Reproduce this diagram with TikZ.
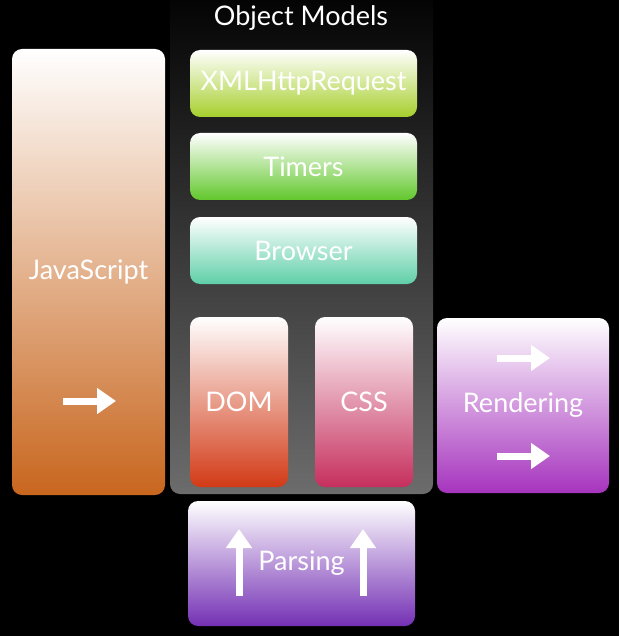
\documentclass[tikz,border=0pt]{standalone}
\usepackage{fontspec}
\setmainfont{Lato}
\usetikzlibrary{arrows.meta,shapes,positioning}

\definecolor{jsorange}{HTML}{C8661E}
\definecolor{xhrgreen}{HTML}{A6CF2C}
\definecolor{timergreen}{HTML}{62C72C}
\definecolor{browserteal}{HTML}{5FCFA8}
\definecolor{domred}{HTML}{D23A16}
\definecolor{csscrimson}{HTML}{C62F5E}
\definecolor{renderpurple}{HTML}{A634BE}
\definecolor{parseviolet}{HTML}{7430B4}
\definecolor{panelgray}{HTML}{6C6C6C}

\tikzset{
  layer/.style={rounded corners=10pt, text=white, inner sep=0pt,
    font=\fontsize{27}{30}\selectfont, top color=white},
  panel/.style={rounded corners=10pt, top color=black, bottom color=panelgray,
    inner sep=0pt},
  fatarrow/.style={white, line width=7pt, -{Triangle[length=19pt,width=25pt]}},
}

\begin{document}
\begin{tikzpicture}[x=1pt,y=-1pt]
  \fill[black] (0,0) rectangle (619,636);
  \useasboundingbox (0,0) rectangle (619,636);

  % object models panel
  \node[panel, minimum width=263pt, minimum height=514pt](om)at(301.5, 237){};
  \node[text=white, font=\fontsize{27}{30}\selectfont](omtitle)at(301, 18){Object Models};

  % layers
  \node[layer, bottom color=jsorange, minimum width=153pt, minimum height=446pt](js)at(88.5, 272){JavaScript};
  \node[layer, bottom color=xhrgreen, minimum width=227pt, minimum height=67pt](xhr)at(303.5, 83.5){XMLHttpRequest};
  \node[layer, bottom color=timergreen, minimum width=227pt, minimum height=67pt](timers)at(303.5, 166.5){Timers};
  \node[layer, bottom color=browserteal, minimum width=227pt, minimum height=67pt](browser)at(303.5, 250.5){Browser};
  \node[layer, bottom color=domred, minimum width=98pt, minimum height=170pt](dom)at(239, 402){DOM};
  \node[layer, bottom color=csscrimson, minimum width=98pt, minimum height=170pt](css)at(364, 402){CSS};
  \node[layer, bottom color=renderpurple, minimum width=172pt, minimum height=175pt](render)at(523, 405.5){Rendering};
  \node[layer, bottom color=parseviolet, minimum width=227pt, minimum height=125pt](parse)at(301.5, 563.5){Parsing};

  % arrows
  \coordinate(jsA)at(63, 401);
  \coordinate(jsB)at(116, 401);
  \coordinate(rdA)at(497, 358);
  \coordinate(rdB)at(550, 358);
  \coordinate(rdC)at(497, 456);
  \coordinate(rdD)at(550, 456);
  \coordinate(psA)at(239, 596);
  \coordinate(psB)at(239, 529);
  \coordinate(psC)at(363, 596);
  \coordinate(psD)at(363, 529);
  \draw[fatarrow](jsA) -- (jsB);
  \draw[fatarrow](rdA) -- (rdB);
  \draw[fatarrow](rdC) -- (rdD);
  \draw[fatarrow](psA) -- (psB);
  \draw[fatarrow](psC) -- (psD);
\end{tikzpicture}
\end{document}
